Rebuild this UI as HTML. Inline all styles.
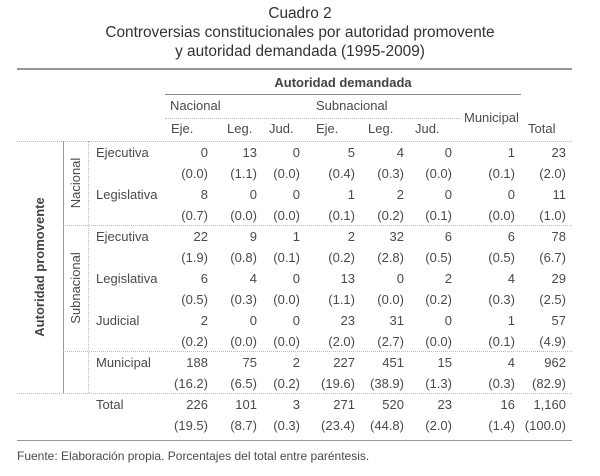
<!DOCTYPE html><html><head><meta charset="utf-8"><style>
body{margin:0;width:600px;height:476px;background:#fff;position:relative;overflow:hidden;font-family:"Liberation Sans",sans-serif;color:#4a4a4a}
.t{position:absolute;left:0;width:600px;text-align:center;font-size:15.4px;color:#333}
.a{position:absolute;font-size:13px;white-space:nowrap;line-height:16px}
.row{position:absolute;left:0;width:600px;height:16px;font-size:13px;line-height:16px}
.row span{position:absolute;white-space:nowrap}
.row span:nth-child(1){right:392px}.row span:nth-child(2){right:343px}.row span:nth-child(3){right:300px}.row span:nth-child(4){right:245px}.row span:nth-child(5){right:196px}.row span:nth-child(6){right:148px}.row span:nth-child(7){right:85px}.row span:nth-child(8){right:34px}
.h{position:absolute;left:17px;width:555px}
.dot{position:absolute;border-top:1px dotted #bbb;height:0}
</style></head><body>
<div class="t" style="top:5px">Cuadro 2</div>
<div class="t" style="top:24px">Controversias constitucionales por autoridad promovente</div>
<div class="t" style="top:43px">y autoridad demandada (1995-2009)</div>
<div class="h" style="top:68px;border-top:2px solid #999"></div>
<div class="a" style="left:165px;width:356px;text-align:center;top:75px;font-weight:bold;color:#444">Autoridad demandada</div>
<div style="position:absolute;left:165px;width:356px;top:94px;border-top:1px solid #888"></div>
<div class="a" style="left:170px;top:98px">Nacional</div>
<div class="a" style="left:316px;top:98px">Subnacional</div>
<div class="dot" style="left:165px;width:296px;top:118px"></div>
<div class="a" style="left:464px;top:110px">Municipal</div>
<div class="a" style="left:528px;top:121px">Total</div>
<div class="a" style="left:171px;top:121px">Eje.</div>
<div class="a" style="left:227px;top:121px">Leg.</div>
<div class="a" style="left:269px;top:121px">Jud.</div>
<div class="a" style="left:316px;top:121px">Eje.</div>
<div class="a" style="left:368px;top:121px">Leg.</div>
<div class="a" style="left:415px;top:121px">Jud.</div>
<div class="dot" style="left:17px;width:555px;top:141px"></div>
<div style="position:absolute;left:63px;top:141px;height:252px;border-left:1.5px solid #999"></div>
<div class="dot" style="left:88px;top:141px;width:0;height:252px;border-top:0;border-left:1px dotted #bbb"></div>
<div class="dot" style="left:63px;width:509px;top:225px"></div>
<div class="dot" style="left:63px;width:509px;top:351px"></div>
<div class="dot" style="left:17px;width:555px;top:393px"></div>
<div class="a" style="left:40px;top:267px;transform:translate(-50%,-50%) rotate(-90deg);font-weight:bold;color:#444">Autoridad promovente</div>
<div class="a" style="left:76px;top:183px;transform:translate(-50%,-50%) rotate(-90deg)">Nacional</div>
<div class="a" style="left:76px;top:288px;transform:translate(-50%,-50%) rotate(-90deg)">Subnacional</div>
<div class="a" style="left:96px;top:145px">Ejecutiva</div>
<div class="a" style="left:96px;top:187px">Legislativa</div>
<div class="a" style="left:96px;top:229px">Ejecutiva</div>
<div class="a" style="left:96px;top:271px">Legislativa</div>
<div class="a" style="left:96px;top:313px">Judicial</div>
<div class="a" style="left:96px;top:355px">Municipal</div>
<div class="a" style="left:96px;top:397px">Total</div>
<div class="row" style="top:145px"><span>0</span><span>13</span><span>0</span><span>5</span><span>4</span><span>0</span><span>1</span><span>23</span></div>
<div class="row" style="top:166px"><span>(0.0)</span><span>(1.1)</span><span>(0.0)</span><span>(0.4)</span><span>(0.3)</span><span>(0.0)</span><span>(0.1)</span><span>(2.0)</span></div>
<div class="row" style="top:187px"><span>8</span><span>0</span><span>0</span><span>1</span><span>2</span><span>0</span><span>0</span><span>11</span></div>
<div class="row" style="top:208px"><span>(0.7)</span><span>(0.0)</span><span>(0.0)</span><span>(0.1)</span><span>(0.2)</span><span>(0.1)</span><span>(0.0)</span><span>(1.0)</span></div>
<div class="row" style="top:229px"><span>22</span><span>9</span><span>1</span><span>2</span><span>32</span><span>6</span><span>6</span><span>78</span></div>
<div class="row" style="top:250px"><span>(1.9)</span><span>(0.8)</span><span>(0.1)</span><span>(0.2)</span><span>(2.8)</span><span>(0.5)</span><span>(0.5)</span><span>(6.7)</span></div>
<div class="row" style="top:271px"><span>6</span><span>4</span><span>0</span><span>13</span><span>0</span><span>2</span><span>4</span><span>29</span></div>
<div class="row" style="top:292px"><span>(0.5)</span><span>(0.3)</span><span>(0.0)</span><span>(1.1)</span><span>(0.0)</span><span>(0.2)</span><span>(0.3)</span><span>(2.5)</span></div>
<div class="row" style="top:313px"><span>2</span><span>0</span><span>0</span><span>23</span><span>31</span><span>0</span><span>1</span><span>57</span></div>
<div class="row" style="top:334px"><span>(0.2)</span><span>(0.0)</span><span>(0.0)</span><span>(2.0)</span><span>(2.7)</span><span>(0.0)</span><span>(0.1)</span><span>(4.9)</span></div>
<div class="row" style="top:355px"><span>188</span><span>75</span><span>2</span><span>227</span><span>451</span><span>15</span><span>4</span><span>962</span></div>
<div class="row" style="top:376px"><span>(16.2)</span><span>(6.5)</span><span>(0.2)</span><span>(19.6)</span><span>(38.9)</span><span>(1.3)</span><span>(0.3)</span><span>(82.9)</span></div>
<div class="row" style="top:397px"><span>226</span><span>101</span><span>3</span><span>271</span><span>520</span><span>23</span><span>16</span><span>1,160</span></div>
<div class="row" style="top:418px"><span>(19.5)</span><span>(8.7)</span><span>(0.3)</span><span>(23.4)</span><span>(44.8)</span><span>(2.0)</span><span>(1.4)</span><span>(100.0)</span></div>
<div class="h" style="top:440px;border-top:1.5px solid #999"></div>
<div class="a" style="left:17px;top:448px;font-size:12px">Fuente: Elaboración propia. Porcentajes del total entre paréntesis.</div>
</body></html>
